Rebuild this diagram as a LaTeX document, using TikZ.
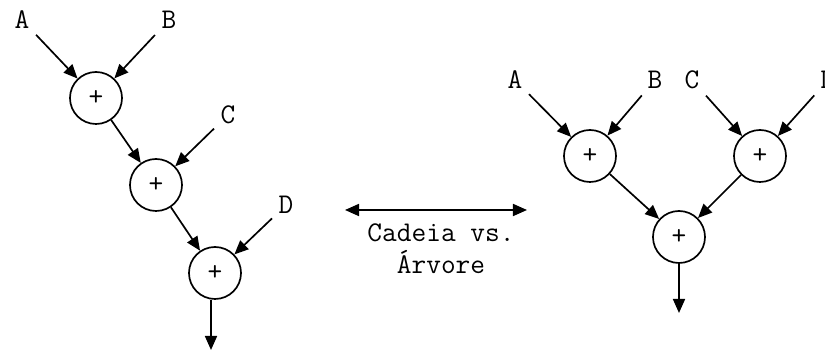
\documentclass[tikz,border=0pt]{standalone}
\usetikzlibrary{arrows.meta,positioning}

\begin{document}
\begin{tikzpicture}[x=0.025cm,y=-0.025cm,
  every node/.style={font=\fontsize{20.3}{22.7}\ttfamily},
  soma/.style={draw,circle,minimum size=1.3cm,inner sep=0pt,line width=1.2pt},
  rotulo/.style={inner sep=0.16cm},
  seta/.style={-{Triangle[length=0.35cm,width=0.3cm]},line width=1.2pt}]
\useasboundingbox (0,0) rectangle (825,352);
\clip (0,0) rectangle (825,352);
% cadeia de somadores
\node[rotulo] (A1) at (22,20) {A};
\node[rotulo] (B1) at (169,20) {B};
\node[rotulo] (C1) at (228,115) {C};
\node[rotulo] (D1) at (286,205) {D};
\node[soma] (S1) at (96,98) {+};
\node[soma] (S2) at (156,185) {+};
\node[soma] (S3) at (215,273) {+};
\coordinate (out1) at (211,350);
\path[seta]
(A1) edge (S1)
(B1) edge (S1)
(S1) edge (S2)
(C1) edge (S2)
(S2) edge (S3)
(D1) edge (S3)
(S3.south -| out1) edge (out1);
% comparacao
\coordinate (L) at (345,210);
\coordinate (R) at (527,210);
\draw[{Triangle[length=0.35cm,width=0.3cm]}-{Triangle[length=0.35cm,width=0.3cm]},line width=1.2pt] (L) -- (R);
\node[align=center] (legenda) at (441,249) {Cadeia vs.\\\'Arvore};
% arvore de somadores
\node[rotulo] (A2) at (515,80) {A};
\node[rotulo] (B2) at (655,80) {B};
\node[rotulo] (C2) at (692,80) {C};
\node[rotulo] (D2) at (828,80) {D};
\node[soma] (T1) at (590,156) {+};
\node[soma] (T2) at (760,156) {+};
\node[soma] (T3) at (679,237) {+};
\coordinate (out2) at (679,313);
\path[seta]
(A2) edge (T1)
(B2) edge (T1)
(C2) edge (T2)
(D2) edge (T2)
(T1) edge (T3)
(T2) edge (T3)
(T3) edge (out2);
\end{tikzpicture}
\end{document}
